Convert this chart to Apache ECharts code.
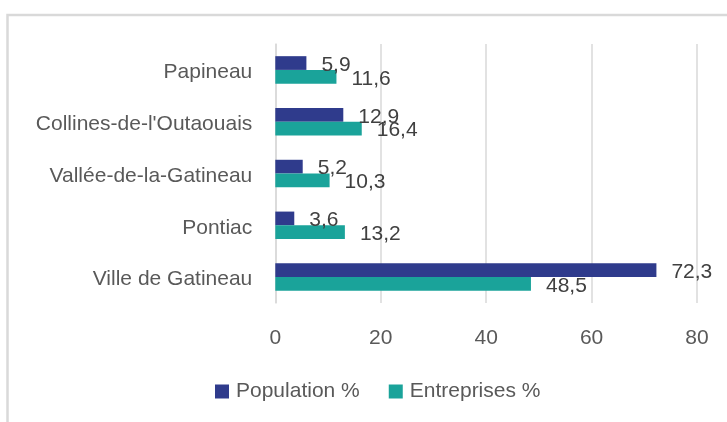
<!DOCTYPE html>
<html>
<head>
<meta charset="utf-8">
<script src="https://cdn.jsdelivr.net/npm/echarts@6/dist/echarts.min.js"></script>
<style>
html,body{margin:0;padding:0;background:#fff;}
#c{width:727px;height:422px;}
</style>
</head>
<body>
<div id="c"></div>
<script>
// bottom-to-top order (ECharts category axis starts at the bottom)
const categories = ['Ville de Gatineau', 'Pontiac', 'Vallée-de-la-Gatineau', "Collines-de-l'Outaouais", 'Papineau'];
const populationPct = [72.3, 3.6, 5.2, 12.9, 5.9];
const entreprisesPct = [48.5, 13.2, 10.3, 16.4, 11.6];
const xTicks = [0, 20, 40, 60, 80];
const seriesNames = ['Population %', 'Entreprises %'];

const FONT = '"Liberation Sans", Arial, sans-serif';
const chart = echarts.init(document.getElementById('c'), null, {renderer: 'canvas'});

const labelCfg = {
  show: true,
  position: 'right',
  distance: 15,
  offset: [0, 2],
  color: '#404040',
  fontFamily: FONT,
  fontSize: 21,
  formatter: p => String(p.value).replace('.', ',')
};

chart.setOption({
  animation: false,
  backgroundColor: '#fff',
  graphic: [{
    type: 'rect',
    shape: {x: 7.5, y: 15, width: 800, height: 600},
    style: {fill: 'none', stroke: '#d9d9d9', lineWidth: 2.5},
    silent: true
  }],
  legend: {
    data: seriesNames,
    bottom: 15,
    left: 210,
    icon: 'rect',
    itemWidth: 14,
    itemHeight: 14,
    itemGap: 29,
    textStyle: {color: '#595959', fontFamily: FONT, fontSize: 21, padding: [0, 0, 0, 2]}
  },
  grid: {left: 275.3, right: 30, top: 44, bottom: 119, containLabel: false},
  xAxis: {
    type: 'value',
    min: xTicks[0],
    max: xTicks[xTicks.length - 1],
    interval: 20,
    axisLine: {show: false},
    axisTick: {show: false},
    splitLine: {show: true, lineStyle: {color: '#d9d9d9', width: 1.5}},
    axisLabel: {color: '#595959', fontFamily: FONT, fontSize: 21, margin: 25}
  },
  yAxis: {
    type: 'category',
    data: categories,
    axisLine: {show: true, lineStyle: {color: '#d9d9d9', width: 1.5}},
    axisTick: {show: false},
    axisLabel: {color: '#595959', fontFamily: FONT, fontSize: 21, margin: 23, lineHeight: 27, verticalAlign: 'top', padding: [-11, 0, 0, 0]}
  },
  series: [
    {
      name: seriesNames[0],
      type: 'bar',
      data: populationPct,
      barGap: '0%',
      barCategoryGap: '47%',
      itemStyle: {color: '#2f3b8c'},
      label: labelCfg
    },
    {
      name: seriesNames[1],
      type: 'bar',
      data: entreprisesPct,
      barGap: '0%',
      barCategoryGap: '47%',
      itemStyle: {color: '#1aa39a'},
      label: labelCfg
    }
  ]
});
</script>
</body>
</html>
